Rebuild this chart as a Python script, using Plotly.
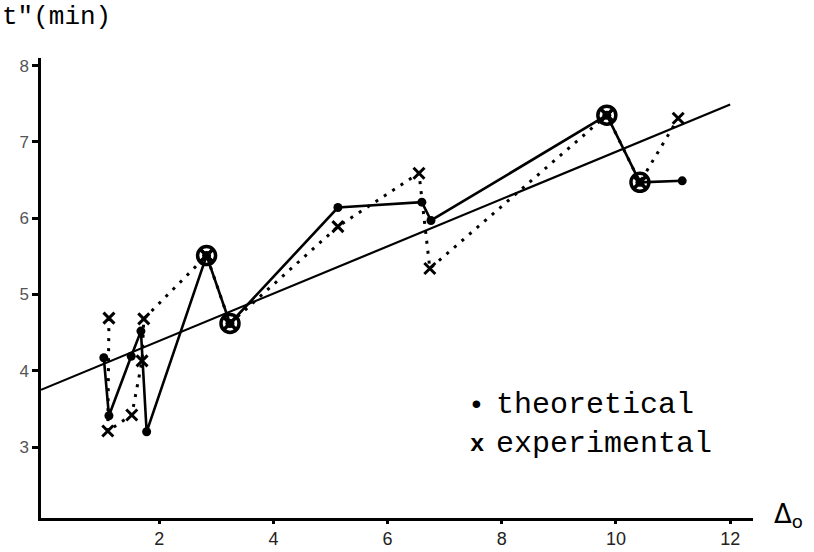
import plotly.graph_objects as go

# Theoretical values (solid line, filled dots), in order of the runs
theo_x = [1.03, 1.12, 1.51, 1.68, 1.78, 2.83, 3.24, 5.13, 6.60, 6.76, 9.84, 10.42, 11.16]
theo_y = [4.17, 3.41, 4.19, 4.52, 3.20, 5.51, 4.62, 6.14, 6.21, 5.97, 7.35, 6.47, 6.49]

# Experimental values (dotted line, crosses), same runs
expt_x = [1.12, 1.10, 1.52, 1.70, 1.73, 2.83, 3.24, 5.13, 6.55, 6.74, 9.84, 10.42, 11.09]
expt_y = [4.69, 3.21, 3.42, 4.13, 4.68, 5.51, 4.62, 5.89, 6.59, 5.34, 7.35, 6.47, 7.31]

# Runs where theory and experiment coincide (drawn as circled points)
coincident = [5, 6, 10, 11]

# Overall straight-line trend
fit_x = [-0.07, 12.0]
fit_y = [3.75, 7.49]

x_ticks = [2, 4, 6, 8, 10, 12]
y_ticks = [3, 4, 5, 6, 7, 8]

mono = "Liberation Mono"

fig = go.Figure()

fig.add_trace(go.Scatter(x=fit_x, y=fit_y, mode="lines",
                         line=dict(color="black", width=2.2)))

fig.add_trace(go.Scatter(x=expt_x, y=expt_y, mode="lines+markers",
                         line=dict(color="black", width=3, dash="3px,7px"),
                         marker=dict(symbol="x-thin", size=11, color="black",
                                     line=dict(color="black", width=3))))

fig.add_trace(go.Scatter(x=theo_x, y=theo_y, mode="lines+markers",
                         line=dict(color="black", width=2.6),
                         marker=dict(symbol="circle", size=9, color="black")))

fig.add_trace(go.Scatter(x=[theo_x[i] for i in coincident],
                         y=[theo_y[i] for i in coincident], mode="markers",
                         marker=dict(symbol="circle-x-open", size=18, color="black",
                                     line=dict(color="black", width=3.5))))

fig.update_layout(
    width=814, height=552,
    margin=dict(l=41, r=61, t=58, b=34),
    paper_bgcolor="white", plot_bgcolor="white",
    showlegend=False,
    font=dict(family=mono, color="black"),
    xaxis=dict(range=[-0.07, 12.4], tickvals=x_ticks, ticktext=[str(v) for v in x_ticks],
               showgrid=False, zeroline=False, showline=True, linecolor="black",
               linewidth=2.5, ticks="outside", ticklen=3, tickwidth=2.5,
               tickcolor="black", automargin=False,
               tickfont=dict(family="Liberation Sans", size=18, color="#222")),
    yaxis=dict(range=[2.07, 8.1], tickvals=y_ticks, ticktext=[str(v) for v in y_ticks],
               showgrid=False, zeroline=False, showline=True, linecolor="black",
               linewidth=2.5, ticks="outside", ticklen=6, tickwidth=2.5,
               tickcolor="black", automargin=False,
               tickfont=dict(family="Liberation Sans", size=17, color="#555")),
    annotations=[
        dict(text='t"(min)', xref="paper", yref="paper", x=-0.0576, y=1.089,
             xanchor="left", yanchor="middle", showarrow=False,
             font=dict(family=mono, size=26)),
        dict(text="Δ<sub>o</sub>", xref="paper", yref="paper", x=1.026, y=0.005,
             xanchor="left", yanchor="middle", showarrow=False,
             font=dict(family="DejaVu Sans", size=26)),
        dict(text="•", xref="paper", yref="paper", x=0.612, y=0.245,
             xanchor="center", yanchor="middle", showarrow=False,
             font=dict(family=mono, size=28)),
        dict(text="theoretical", xref="paper", yref="paper", x=0.636, y=0.245,
             xanchor="left", yanchor="middle", showarrow=False,
             font=dict(family=mono, size=30)),
        dict(text="<b>x</b>", xref="paper", yref="paper", x=0.612, y=0.1605,
             xanchor="center", yanchor="middle", showarrow=False,
             font=dict(family=mono, size=24)),
        dict(text="experimental", xref="paper", yref="paper", x=0.636, y=0.1605,
             xanchor="left", yanchor="middle", showarrow=False,
             font=dict(family=mono, size=30)),
    ],
)

fig.write_html("out.html")
